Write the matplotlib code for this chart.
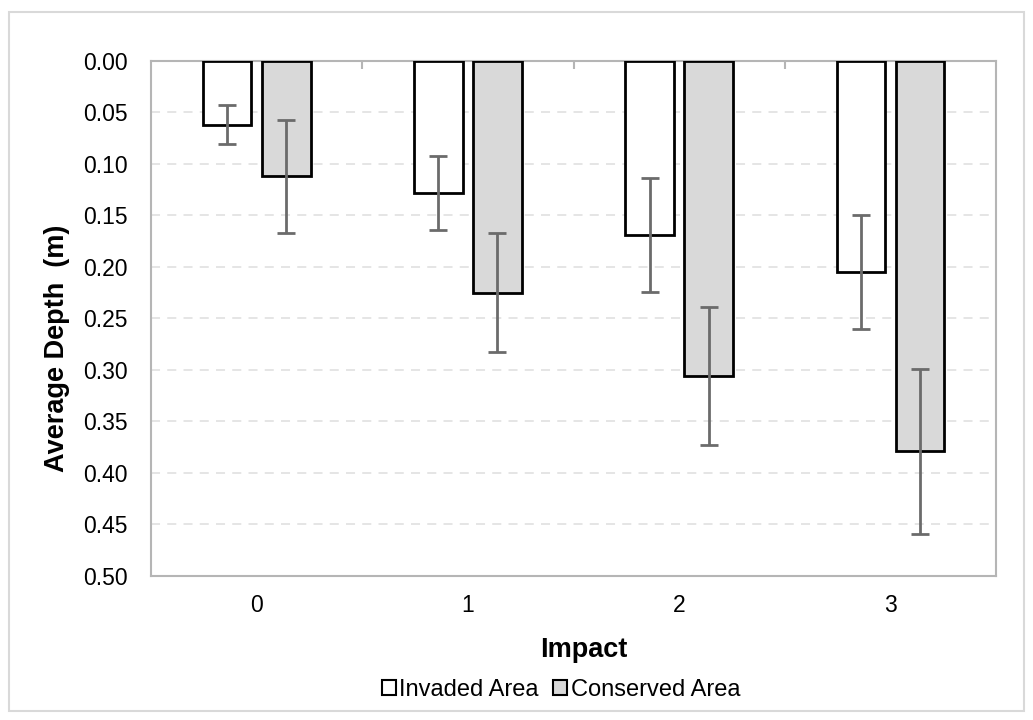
import numpy as np
import matplotlib
matplotlib.use('Agg')
from matplotlib import pyplot as plt
from matplotlib.patches import Rectangle, Patch

impact = ['0', '1', '2', '3']
invaded = [0.062, 0.128, 0.169, 0.205]
invaded_err = [0.019, 0.036, 0.055, 0.055]
conserved = [0.112, 0.225, 0.306, 0.379]
conserved_err = [0.055, 0.058, 0.067, 0.080]

plt.rcParams['font.family'] = ['Liberation Sans', 'DejaVu Sans']

fig = plt.figure(figsize=(10.33, 7.2), dpi=100)
ax = fig.add_axes([0.1462, 0.2, 0.818, 0.7153])

x = np.arange(len(impact))
w = 0.23
err_kw = dict(ecolor='#6b6b6b', elinewidth=2, capsize=6.5, capthick=2)
ax.bar(x - 0.14, invaded, w, yerr=invaded_err, color='white', edgecolor='black',
       linewidth=2, error_kw=err_kw, label='Invaded Area', zorder=3)
ax.bar(x + 0.14, conserved, w, yerr=conserved_err, color='#d9d9d9', edgecolor='black',
       linewidth=2, error_kw=err_kw, label='Conserved Area', zorder=3)

ax.set_xlim(-0.5, 3.5)
ax.set_ylim(0.5, 0)  # 倒过来画
ax.set_yticks(np.arange(0, 0.51, 0.05))
ax.set_yticklabels(['%.2f' % v for v in np.arange(0, 0.51, 0.05)])
ax.set_xticks(x)
ax.set_xticklabels(impact)
ax.set_xticks([0.5, 1.5, 2.5], minor=True)
ax.tick_params(axis='x', which='major', length=0, pad=13, labelsize=16.5)
ax.tick_params(axis='x', which='minor', bottom=False, top=True, direction='in',
               length=6, width=1.5, color='#b5b5b5')
ax.tick_params(axis='y', length=0, pad=17, labelsize=16.5)

for s in ax.spines.values():
    s.set_color('#b5b5b5')
    s.set_linewidth(1.5)

ax.grid(axis='y', linestyle=(0, (5, 4)), color='#e3e3e3', linewidth=1.3, zorder=0)
ax.set_axisbelow(True)

ax.set_ylabel('Average Depth  (m)', fontsize=19.5, fontweight='bold', va='center')
ax.yaxis.set_label_coords(-0.111, 0.443)
ax.set_xlabel('Impact', fontsize=19.5, fontweight='bold', va='center')
ax.xaxis.set_label_coords(0.512, (576 - 650) / 515)

handles = [Patch(facecolor='white', edgecolor='black', linewidth=1.5, label='Invaded Area'),
           Patch(facecolor='#d9d9d9', edgecolor='black', linewidth=1.5, label='Conserved Area')]
fig.legend(handles=handles, loc='center', bbox_to_anchor=(561 / 1033, 1 - 690 / 720), ncol=2,
           frameon=False, fontsize=17, handlelength=0.6, handleheight=0.6,
           handletextpad=0.15, columnspacing=0.6)

# 外框
fig.patches.append(Rectangle((9 / 1033, 9 / 720), 1015 / 1033, 699 / 720,
                             transform=fig.transFigure, fill=False,
                             edgecolor='#d9d9d9', linewidth=1.5))

fig.savefig('out.png', dpi=100)
